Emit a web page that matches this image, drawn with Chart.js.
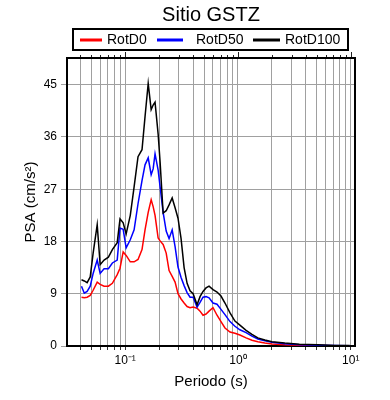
<!DOCTYPE html>
<html>
<head>
<meta charset="utf-8">
<script src="https://cdn.jsdelivr.net/npm/chart.js@4/dist/chart.umd.min.js"></script>
<style>
  html, body { margin: 0; padding: 0; background: #fff; }
</style>
</head>
<body>
<canvas id="psa" width="390" height="400"></canvas>
<script>
// periods (s) and spectral values (cm/s2)
const periods = [0.041, 0.0434, 0.046, 0.049, 0.052, 0.0565, 0.060, 0.065, 0.071, 0.077,
  0.085, 0.090, 0.096, 0.102, 0.111, 0.120, 0.130, 0.141, 0.150, 0.160,
  0.170, 0.177, 0.184, 0.196, 0.204, 0.217, 0.231, 0.245, 0.261, 0.277,
  0.294, 0.313, 0.333, 0.354, 0.376, 0.400, 0.434, 0.461, 0.490, 0.521,
  0.554, 0.601, 0.652, 0.707, 0.767, 0.850, 0.94, 1.04, 1.18, 1.33,
  1.50, 1.73, 2.0, 2.6, 3.5, 5.1, 7.2, 9.8];

const rotD0 = [8.4, 8.3, 8.4, 8.7, 9.6, 11, 10.6, 10.3, 10.3, 10.8,
  12.3, 13.4, 16.2, 15.6, 14.5, 14.5, 14.9, 16.6, 20, 23,
  25.2, 24, 22.5, 18.6, 18.1, 17.5, 16, 13, 12, 11,
  9, 8.1, 7.4, 6.8, 6.6, 6.7, 6.5, 6, 5.3, 5.5,
  6, 6.6, 5.3, 4.2, 3.1, 2.4, 2.2, 1.9, 1.4, 1.0,
  0.75, 0.5, 0.35, 0.2, 0.12, 0.08, 0.05, 0.03];

const rotD50 = [10.3, 9.1, 9.4, 10.3, 12.5, 14.8, 12.5, 13.3, 13.3, 14.3,
  14.8, 20.3, 20.1, 16.9, 18.3, 20, 24.5, 28.5, 31.2, 32.4,
  29.5, 30.5, 33.1, 30.3, 27.4, 23, 19.8, 18.5, 20, 17.1,
  13.6, 11.8, 10.4, 9.2, 8.4, 8.4, 6.7, 7.5, 8.4, 8.5,
  8.3, 7.4, 7.2, 6.3, 5.4, 4.2, 3.4, 2.8, 2.3, 1.7,
  1.2, 0.9, 0.65, 0.38, 0.22, 0.14, 0.08, 0.05];

const rotD100 = [11.4, 11.2, 10.9, 11.9, 16, 20.9, 14, 14.8, 15.3, 16.6,
  17.8, 21.9, 21.2, 19.3, 22.5, 27.4, 32.6, 33.8, 39.5, 45.2,
  40.7, 41.5, 42, 36.5, 31.7, 22.9, 23.3, 24.3, 25.5, 23.8,
  22, 18.5, 13.5, 10.8, 9.5, 9, 7.1, 8.5, 9.4, 10,
  10.3, 9.7, 9.3, 8.6, 7.4, 5.7, 4.3, 3.6, 2.7, 2.0,
  1.4, 1.05, 0.75, 0.5, 0.3, 0.2, 0.1, 0.07];

const seriesNames = ['RotD0', 'RotD50', 'RotD100'];
const seriesColors = ['#ff0000', '#0000ff', '#000000'];

const yTicks = [0, 9, 18, 27, 36, 45];
const decadeValues = [0.1, 1, 10];
const decadeLabels = ['10\u207B\u00B9', '10\u2070', '10\u00B9'];

const X_MIN = 0.0305, X_MAX = 10.9, Y_MAX = 49.6;
const FONT = 'Liberation Sans, Arial, Helvetica, sans-serif';

// every 1..9 x 10^k between the limits, for the grid
const xGridTicks = [];
for (let e = -2; e <= 1; e++) {
  for (let m = 1; m <= 9; m++) {
    const v = +(m * Math.pow(10, e)).toPrecision(3);
    if (v >= X_MIN && v <= X_MAX) xGridTicks.push(v);
  }
}

function pts(vals) {
  return periods.map((p, i) => ({ x: p, y: vals[i] }));
}

const allSeries = [rotD0, rotD50, rotD100];

// frame, top ticks, title and boxed legend
const decor = {
  id: 'decor',
  afterDraw(chart) {
    const ctx = chart.ctx;
    const a = chart.chartArea;
    const xs = chart.scales.x;
    ctx.save();
    ctx.strokeStyle = '#000';
    ctx.lineWidth = 2;
    ctx.beginPath();
    ctx.moveTo(a.left - 1, a.top);
    ctx.lineTo(a.right, a.top);
    ctx.lineTo(a.right, a.bottom + 1);
    ctx.stroke();

    // ticks on top edge
    ctx.lineWidth = 1;
    ctx.strokeStyle = '#222';
    xGridTicks.forEach(v => {
      const px = Math.round(xs.getPixelForValue(v)) + 0.5;
      const isDecade = decadeValues.some(d => Math.abs(d - v) < 1e-9);
      ctx.beginPath();
      ctx.moveTo(px, a.top - 1);
      ctx.lineTo(px, a.top - (isDecade ? 6 : 3));
      ctx.stroke();
    });

    // title
    ctx.fillStyle = '#000';
    ctx.font = '20px ' + FONT;
    ctx.textAlign = 'center';
    ctx.textBaseline = 'middle';
    ctx.fillText('Sitio GSTZ', (a.left + a.right) / 2, 15);

    // legend box
    ctx.fillStyle = '#fff';
    ctx.fillRect(73, 29, 275, 21);
    ctx.strokeStyle = '#000';
    ctx.lineWidth = 2;
    ctx.strokeRect(73, 29, 275, 21);
    const lineX = [80, 157, 253];
    const lineW = [22, 26, 27];
    const textX = [107, 196, 285];
    ctx.font = '14px ' + FONT;
    ctx.textAlign = 'left';
    seriesNames.forEach((n, i) => {
      ctx.strokeStyle = seriesColors[i];
      ctx.lineWidth = 3;
      ctx.beginPath();
      ctx.moveTo(lineX[i], 40);
      ctx.lineTo(lineX[i] + lineW[i], 40);
      ctx.stroke();
      ctx.fillStyle = '#000';
      ctx.fillText(n, textX[i], 40);
    });
    ctx.restore();
  }
};

new Chart('psa', {
  type: 'line',
  data: {
    datasets: seriesNames.map((n, i) => ({
      label: n,
      data: pts(allSeries[i]),
      borderColor: seriesColors[i],
      backgroundColor: seriesColors[i],
      borderWidth: 1.5,
      pointRadius: 0,
      tension: 0,
      order: 3 - i,
    })),
  },
  options: {
    responsive: false,
    animation: false,
    layout: { padding: { top: 58, right: 35, left: 0, bottom: 0 } },
    plugins: { legend: { display: false }, title: { display: false }, tooltip: { enabled: false } },
    scales: {
      x: {
        type: 'logarithmic',
        min: X_MIN,
        max: X_MAX,
        afterBuildTicks: s => { s.ticks = xGridTicks.map(v => ({ value: v })); },
        afterFit: s => { s.height = 54; },
        grid: { color: '#a0a0a0', lineWidth: 1, tickLength: 4, tickColor: '#333' },
        border: { color: '#000', width: 2 },
        ticks: {
          autoSkip: false,
          maxRotation: 0,
          padding: 3,
          color: '#000',
          font: { family: FONT, size: 12 },
          callback: v => {
            const k = decadeValues.findIndex(d => Math.abs(d - v) < 1e-9);
            return k >= 0 ? decadeLabels[k] : '';
          },
        },
        title: {
          display: true,
          text: 'Periodo (s)',
          color: '#000',
          font: { family: FONT, size: 15 },
          padding: { top: 0, bottom: 9 },
        },
      },
      y: {
        min: 0,
        max: Y_MAX,
        afterBuildTicks: s => { s.ticks = yTicks.map(v => ({ value: v })); },
        afterFit: s => { s.width = 67; },
        grid: { color: '#a0a0a0', lineWidth: 1, tickLength: 6, tickColor: '#a0a0a0' },
        border: { color: '#000', width: 2 },
        ticks: {
          padding: 4,
          color: '#000',
          font: { family: FONT, size: 12 },
        },
        title: {
          display: true,
          text: 'PSA (cm/s\u00B2)',
          color: '#000',
          font: { family: FONT, size: 15 },
          padding: { top: 22, bottom: 0 },
        },
      },
    },
  },
  plugins: [decor],
});
</script>
</body>
</html>
